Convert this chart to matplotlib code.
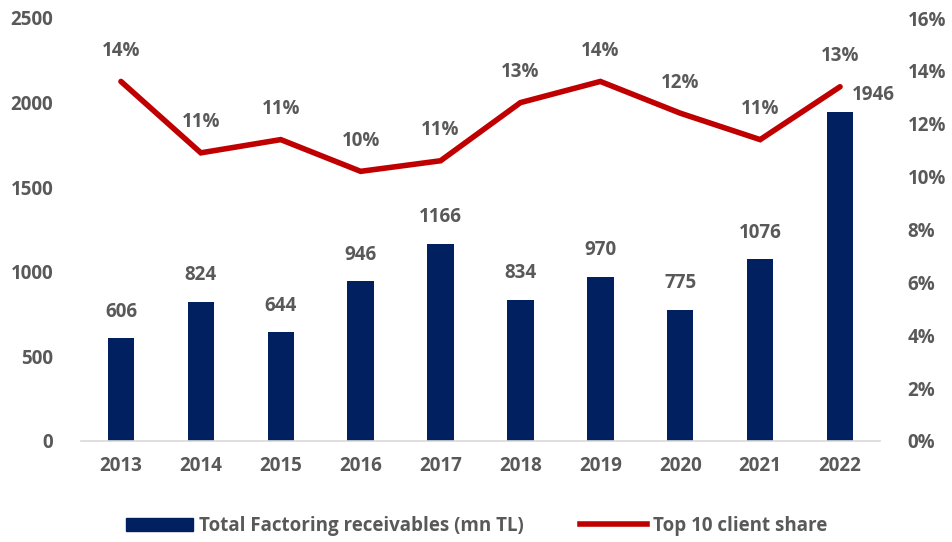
import matplotlib.pyplot as plt
from matplotlib.lines import Line2D
from matplotlib.patches import Patch

plt.rcParams['font.family'] = ['Open Sans', 'DejaVu Sans']
plt.rcParams['font.weight'] = 'bold'

years = ['2013', '2014', '2015', '2016', '2017', '2018', '2019', '2020', '2021', '2022']
receivables = [606, 824, 644, 946, 1166, 834, 970, 775, 1076, 1946]
top10_share = [13.6, 10.9, 11.4, 10.2, 10.6, 12.8, 13.6, 12.4, 11.4, 13.4]

navy = '#002060'
red = '#C00000'
grey = '#595959'
fs = 13.5

fig = plt.figure(figsize=(9.53, 5.42), dpi=100)
ax = fig.add_axes([81 / 953, 1 - 441 / 542, 799 / 953, 423 / 542])
ax2 = ax.twinx()

x = range(len(years))
ax.bar(x, receivables, width=0.33, color=navy, zorder=2)
for i, v in enumerate(receivables):
    if i == len(receivables) - 1:
        # last bar: value sits beside the top so it clears the line
        ax.annotate(str(v), (i, v), xytext=(24, 12), textcoords='offset points',
                    ha='center', va='center', fontsize=fs, color=grey, fontweight='bold')
    else:
        ax.annotate(str(v), (i, v), xytext=(0, 19), textcoords='offset points',
                    ha='center', va='center', fontsize=fs, color=grey, fontweight='bold')

ax2.plot(x, top10_share, color=red, linewidth=4, solid_capstyle='round',
         solid_joinstyle='miter', zorder=3)
for i, v in enumerate(top10_share):
    ax2.annotate(f'{v:.0f}%', (i, v), xytext=(0, 22), textcoords='offset points',
                 ha='center', va='center', fontsize=fs, color=grey, fontweight='bold')

ax.set_xlim(-0.5, len(years) - 0.5)
ax.set_ylim(0, 2500)
ax.set_yticks(range(0, 2501, 500))
ax2.set_ylim(0, 16)
ax2.set_yticks(range(0, 17, 2))
ax2.set_yticklabels([f'{t}%' for t in range(0, 17, 2)])

ax.set_xticks(list(x))
ax.set_xticklabels(years)

for a in (ax, ax2):
    for s in a.spines.values():
        s.set_visible(False)
    a.tick_params(length=0, labelsize=fs, labelcolor=grey)
    for lbl in a.get_xticklabels() + a.get_yticklabels():
        lbl.set_fontweight('bold')
ax.spines['bottom'].set_visible(True)
ax.spines['bottom'].set_color('#D9D9D9')
ax.spines['bottom'].set_linewidth(1.2)
ax.tick_params(axis='x', pad=11)
ax.tick_params(axis='y', pad=20)
ax2.tick_params(axis='y', pad=20)

handles = [Patch(color=navy, label='Total Factoring receivables (mn TL)'),
           Line2D([0], [0], color=red, linewidth=4, label='Top 10 client share')]
leg = fig.legend(handles=handles, loc='center', bbox_to_anchor=(0.5, 1 - 526 / 542),
                 ncol=2, frameon=False, fontsize=fs, labelcolor=grey,
                 handlelength=3.6, handletextpad=0.3, columnspacing=3.0)
for t in leg.get_texts():
    t.set_fontweight('bold')

fig.savefig('out.png', dpi=100)
